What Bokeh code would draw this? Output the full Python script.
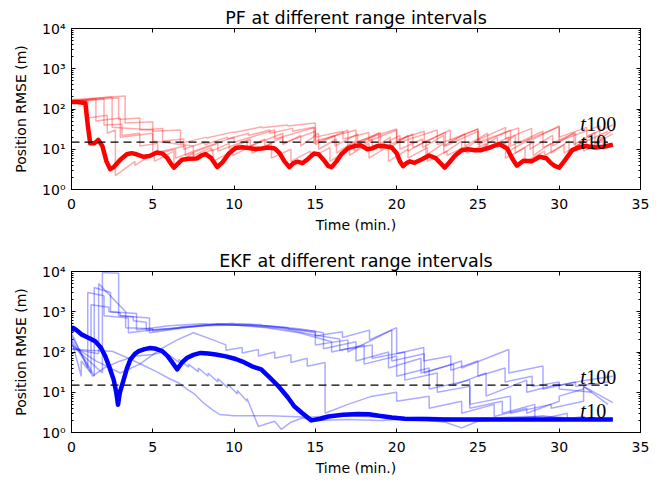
from bokeh.plotting import figure
from bokeh.layouts import column
from bokeh.models import Range1d, FixedTicker, LogAxis, LinearAxis, CustomJSTickFormatter
from bokeh.embed import file_html
from bokeh.resources import INLINE
from bokeh.core.properties import value

# ---------------- data ----------------
X_TICKS = [0, 5, 10, 15, 20, 25, 30, 35]
Y_TICKS = [1, 10, 100, 1000, 10000]
Y_MINOR = [m * 10 ** e for e in range(4) for m in range(2, 10)]

THRESH_T = [0, 33.0]
THRESH_V = [15, 15]

# PF, 10 s interval (thick)
PF10_T = [0, 0.3, 0.6, 0.85, 1.0, 1.15, 1.4, 1.65, 1.9, 2.15, 2.38, 2.6, 3.0, 3.4, 3.7, 4.0, 4.44, 4.8,
          5.25, 5.6, 5.9, 6.15, 6.3, 6.5, 6.8, 7.2, 7.7, 8.0, 8.25, 8.6, 8.96, 9.3, 9.7, 10.1, 10.5,
          10.9, 11.3, 11.7, 12.1, 12.5, 12.8, 13.1, 13.4, 13.65, 13.9, 14.2, 14.5, 14.9, 15.2, 15.5,
          15.8, 16.0, 16.3, 16.6, 17.0, 17.4, 17.8, 18.2, 18.5, 18.8, 19.2, 19.7, 20.0, 20.2, 20.4,
          20.6, 20.8, 21.1, 21.5, 22.0, 22.4, 22.7, 22.96, 23.2, 23.6, 24.0, 24.4, 24.8, 25.2, 25.7,
          26.3, 26.8, 27.1, 27.4, 27.6, 27.8, 28.3, 28.8, 29.2, 29.5, 29.75, 30.0, 30.3, 30.8, 31.2,
          31.6, 32.2, 32.7, 33.3]
PF10_V = [150, 150, 145, 140, 40, 14, 14, 17, 12, 5, 3.2, 3.6, 5.5, 7.5, 8, 7.5, 6.5, 6.8,
          8.3, 7.8, 6, 4.2, 3.5, 4.2, 5.5, 5.8, 5.9, 7, 7.6, 6, 3.6, 4.8, 8, 10.8, 11.2,
          10.8, 10.2, 10.5, 11, 10.5, 8, 5, 3.6, 4.5, 4.9, 4.5, 5.5, 7.8, 7.5, 5.5,
          3.8, 3.6, 5, 7.5, 10.5, 12, 12.5, 10, 10.5, 12, 12, 11, 8, 5, 3.8,
          4.5, 5, 4.6, 5.5, 7, 6, 4.5, 3.5, 4.5, 7, 9.5, 10, 9.5, 9.5, 11,
          13.5, 10.5, 6, 3.9, 4.5, 5.2, 5, 6.5, 6, 4.5, 3.8, 3.5, 5, 9.5, 11,
          12, 11, 11.5, 13]

# PF, longer intervals (thin)
PF100_T = [0, 3.3, 3.3, 5.0, 5.0, 6.7, 6.7, 8.3, 8.3, 10.0, 10.0, 11.7, 11.7, 13.3, 13.3, 15.0, 15.0,
           16.7, 16.7, 18.3, 18.3, 20.0, 20.0, 21.7, 21.7, 23.3, 23.3, 25.0, 25.0, 26.7, 26.7, 28.3,
           28.3, 30.0, 30.0, 31.7, 31.7, 33.3]
PF100_V = [170, 210, 45, 48, 28, 30, 14, 20, 19, 27, 26, 36, 34, 40, 38, 45, 20,
           28, 18, 26, 16, 30, 17, 28, 15, 30, 16, 32, 17, 35, 18, 33,
           17, 38, 20, 35, 21, 40]

PF80_T = [0, 2.9, 2.9, 4.2, 4.2, 5.6, 5.6, 6.9, 6.9, 8.2, 8.2, 9.6, 9.6, 10.9, 10.9, 12.2, 12.2, 13.6,
          13.6, 14.9, 14.9, 16.2, 16.2, 17.6, 17.6, 18.9, 18.9, 20.2, 20.2, 21.6, 21.6, 22.9, 22.9,
          24.2, 24.2, 25.6, 25.6, 26.9, 26.9, 28.2, 28.2, 29.6, 29.6, 30.9, 30.9, 32.2, 32.2, 33.3]
PF80_V = [150, 190, 55, 60, 30, 33, 16, 18, 10, 15, 13, 20, 18, 25, 22, 30, 25, 33,
          28, 35, 14, 22, 12, 24, 13, 25, 12, 22, 10, 18, 11, 22, 12,
          24, 12, 25, 11, 20, 9, 18, 10, 22, 12, 25, 13, 26, 14, 24]

PF60_T = [0, 2.0, 2.0, 3.1, 3.1, 4.2, 4.2, 5.3, 5.3, 6.4, 6.4, 7.5, 7.5, 8.6, 8.6, 9.7, 9.7, 10.8,
          10.8, 11.9, 11.9, 13.0, 13.0, 14.1, 14.1, 15.2, 15.2, 16.3, 16.3, 17.4, 17.4, 18.5, 18.5,
          19.6, 19.6, 20.7, 20.7, 21.8, 21.8, 22.9, 22.9, 24.0, 24.0, 25.1, 25.1, 26.2, 26.2, 27.3,
          27.3, 28.4, 28.4, 29.5, 29.5, 30.6, 30.6, 31.7, 31.7, 32.8, 32.8, 33.3]
PF60_V = [160, 180, 40, 42, 22, 25, 12, 14, 8, 10, 6, 9, 7, 11, 9, 14, 10, 16,
          11, 18, 12, 20, 13, 22, 12, 25, 10, 18, 8, 16, 9, 18, 10,
          20, 11, 22, 9, 16, 7, 14, 8, 16, 9, 18, 10, 20, 11, 22,
          8, 15, 7, 14, 8, 16, 9, 18, 10, 20, 11, 13]

PF20_T = [0, 1.0, 1.0, 2.2, 2.2, 2.7, 2.7, 3.9, 3.9, 5.1, 5.1, 6.3, 6.3, 7.5, 7.5, 8.7, 8.7, 9.9,
          9.9, 11.1, 11.1, 12.3, 12.3, 13.5, 13.5, 14.7, 14.7, 15.9, 15.9, 17.1, 17.1, 18.3, 18.3,
          19.5, 19.5, 20.7, 20.7, 21.9, 21.9, 23.1, 23.1, 24.3, 24.3, 25.5, 25.5, 26.7, 26.7, 27.9,
          27.9, 29.1, 29.1, 30.3, 30.3, 31.5, 31.5, 32.7, 32.7, 33.3]
PF20_V = [150, 160, 60, 70, 25, 30, 2.2, 5, 4, 8, 5, 9, 4, 8, 6, 10, 5, 9,
          7, 12, 8, 14, 6, 10, 5, 9, 6, 11, 5, 10, 7, 14, 6,
          12, 5, 10, 6, 11, 5, 9, 7, 12, 8, 14, 9, 15, 6, 11,
          5, 9, 7, 13, 8, 15, 9, 16, 10, 12]

PF40_T = [0, 1.5, 1.5, 3.0, 3.0, 5.0, 5.0, 7.0, 7.0, 9.0, 9.0, 11.0, 11.0, 13.0, 13.0, 15.0, 15.0,
          17.0, 17.0, 19.0, 19.0, 21.0, 21.0, 23.0, 23.0, 25.0, 25.0, 27.0, 27.0, 29.0, 29.0, 31.0,
          31.0, 33.0]
PF40_V = [150, 180, 50, 60, 20, 25, 8, 12, 7, 14, 9, 18, 12, 25, 14, 28, 13,
          30, 12, 26, 10, 24, 11, 26, 12, 28, 13, 30, 12, 28, 11, 26,
          12, 28]

PF50_T = [0, 2.5, 2.5, 5.0, 5.0, 7.5, 7.5, 10.0, 10.0, 12.5, 12.5, 15.0, 15.0, 17.5, 17.5, 20.0,
          20.0, 22.5, 22.5, 25.0, 25.0, 27.5, 27.5, 30.0, 30.0, 32.5, 32.5, 33.3]
PF50_V = [160, 200, 35, 30, 16, 12, 9, 20, 15, 30, 18, 35, 16, 30, 15, 32,
          14, 30, 13, 32, 15, 34, 14, 36, 16, 38, 18, 30]

# EKF, 10 s interval (thick)
EKF10_T = [0, 0.1, 0.3, 0.64, 1.0, 1.46, 1.8, 2.08, 2.35, 2.6, 2.75, 2.86, 2.98, 3.2, 3.4, 3.62,
           3.9, 4.14, 4.5, 4.85, 5.2, 5.58, 5.9, 6.2, 6.5, 6.8, 7.12, 7.5, 7.94, 8.4, 8.87, 9.5,
           10.1, 10.6, 11.1, 11.67, 12.2, 12.6, 12.9, 13.3, 13.7, 14.2, 14.75, 15.3, 15.8, 16.7,
           17.6, 18.3, 18.9, 19.7, 20.5, 21.5, 23.0, 25.0, 27.0, 29.0, 31.0, 33.3]
EKF10_V = [330, 400, 350, 270, 230, 185, 130, 78, 40, 20, 10, 4.9, 10, 20, 38, 65,
           90, 105, 118, 126, 120, 105, 80, 55, 37, 55, 72, 85, 95, 92, 87, 78,
           67, 56, 44, 37, 23, 16, 11.7, 7.5, 4.5, 3.0, 2.0, 2.2, 2.5, 2.75,
           2.9, 2.85, 2.6, 2.35, 2.2, 2.15, 2.1, 2.1, 2.1, 2.1, 2.1, 2.1]

# EKF, longer intervals (thin)
EKF100_T = [0, 1.67, 1.67, 3.33, 3.33, 5.0, 5.0, 6.67, 6.67, 8.33, 8.33, 10.0, 10.0, 11.67, 11.67,
            13.33, 13.33, 15.0, 15.0, 16.67, 16.67, 18.33, 18.33, 20.0, 20.0, 21.67, 21.67, 23.33,
            23.33, 25.0, 25.0, 26.67, 26.67, 28.33, 28.33, 30.0, 30.0, 31.67, 31.67, 33.3]
EKF100_V = [120, 90, 5000, 1000, 400, 380, 330, 400, 420, 480, 470, 520, 500, 480, 460,
            400, 380, 330, 250, 320, 230, 350, 200, 400, 90, 130, 60, 80,
            35, 60, 25, 40, 18, 25, 14, 18, 15, 20, 20, 25]

EKF80_T = [0, 1.9, 1.9, 2.9, 2.9, 4.8, 4.8, 7.0, 9.0, 11.0, 13.0, 15.0, 15.0, 17.0, 17.0, 19.7,
           19.7, 21.7, 21.7, 24.0, 24.0, 26.9, 26.9, 29.0, 29.0, 31.0, 31.0, 33.0]
EKF80_V = [150, 30, 9500, 9000, 800, 700, 300, 400, 500, 480, 400, 300, 150, 200, 100, 350,
           60, 90, 30, 60, 40, 115, 30, 45, 12, 18, 14, 18]

EKF60_T = [0, 1.4, 1.4, 2.4, 2.4, 4.0, 4.0, 6.0, 8.0, 10.0, 12.0, 14.0, 16.0, 16.0, 18.0, 18.0,
           20.0, 20.0, 22.0, 22.0, 24.5, 24.5, 27.0, 27.0, 29.5, 29.5, 31.5, 31.5, 33.0]
EKF60_V = [250, 25, 4000, 3000, 1000, 900, 350, 450, 500, 470, 400, 300, 180, 100, 150, 50,
           80, 25, 40, 12, 20, 5, 8, 3, 5, 4, 6, 14, 5]

EKF50_T = [0, 1.0, 1.0, 2.0, 2.0, 3.5, 3.5, 5.0, 7.0, 9.0, 11.0, 13.0, 15.0, 16.5, 16.5, 18.5,
           18.5, 20.5, 20.5, 22.5, 22.5, 24.5, 24.5, 26.5, 26.5, 28.5, 28.5, 30.5, 30.5, 31.5]
EKF50_V = [300, 40, 3000, 2500, 800, 700, 300, 350, 420, 480, 450, 380, 260, 210, 110, 150,
           70, 100, 20, 30, 10, 14, 4, 6, 3, 5, 2, 3, 2.2, 2.5]

EKF45_T = [0, 0.6, 0.6, 1.2, 1.2, 2.3, 2.3, 3.0, 3.0, 3.8, 3.8, 4.6, 4.6, 6.0, 8.0, 10.0, 12.0,
           14.0, 15.5, 15.5, 17.5, 17.5, 19.5, 19.5, 21.5, 21.5, 23.5, 23.5, 25.5, 25.5, 28.0,
           28.0, 30.0, 30.0, 32.0]
EKF45_V = [200, 25, 60, 30, 1500, 1300, 1000, 950, 800, 750, 600, 550, 350, 380, 440, 470, 450,
           380, 300, 120, 180, 60, 100, 40, 70, 30, 50, 15, 30, 8, 20, 10, 16, 12, 10]

EKF40_T = [0, 0.8, 1.3, 2.0, 3.0, 4.0, 5.0, 5.6, 6.0, 6.0, 6.6, 6.6, 7.2, 7.2, 7.8, 7.8, 8.4,
           8.4, 9.0, 9.0, 9.6, 9.6, 10.2, 10.2, 10.8, 10.8, 11.5, 11.9, 12.5, 12.9, 13.5, 14.2,
           15.0, 17.0, 19.0, 21.0, 23.0, 24.0, 25.0, 27.0, 29.0, 31.0]
EKF40_V = [200, 60, 25, 40, 60, 80, 87, 100, 70, 85, 55, 65, 42, 50, 32, 40, 25,
           30, 18, 22, 13, 16, 9, 11, 6, 7, 1.4, 1.6, 1.9, 1.2, 1.8, 2.3,
           2.0, 2.1, 2.0, 2.2, 1.8, 1.3, 1.9, 2.2, 2.6, 2.0]

EKF30_T = [0, 1.0, 2.5, 3.5, 4.5, 5.2, 6.0, 6.6, 7.1, 7.6, 8.1, 8.66, 9.1, 10.0, 11.0, 12.2, 13.5,
           14.6, 16.0, 18.0, 20.0, 22.0, 24.0, 26.0, 28.0, 30.0, 31.0]
EKF30_V = [120, 110, 104, 70, 45, 33, 22, 17, 12, 8.8, 5.5, 3.7, 2.8, 2.6, 2.6, 2.6, 2.5,
           2.4, 2.6, 2.5, 2.3, 2.4, 2.2, 2.3, 2.5, 2.4, 2.2]

EKF20_T = [0, 1.5, 3.0, 4.2, 5.5, 6.5, 7.5, 8.7, 9.5, 9.5, 10.5, 10.5, 11.5, 11.5, 12.5, 12.5,
           13.5, 13.5, 14.5, 14.5, 15.6, 15.6, 17.0, 18.5, 20.0, 20.0, 22.0, 22.0, 24.0, 24.0,
           26.0, 26.0, 28.0, 28.0, 30.0, 30.0, 31.5, 31.5, 33.3]
EKF20_V = [150, 60, 30, 50, 120, 200, 300, 200, 150, 110, 130, 95, 115, 80, 100, 70,
           85, 55, 70, 44, 55, 3, 5, 8, 10, 6, 8, 4, 6, 3,
           5, 2.5, 4, 3, 6, 8, 12, 14, 5.5]

# annotation anchors (t, value)
PF_LABEL_T = [31.3, 31.3]
PF_LABEL_V = [43, 15]
EKF_LABEL_T = [31.3, 31.3]
EKF_LABEL_V = [24.5, 3.4]
LABEL_NUM = ["100", "10"]

PF_THIN = [(PF100_T, PF100_V), (PF80_T, PF80_V), (PF60_T, PF60_V), (PF50_T, PF50_V),
           (PF40_T, PF40_V), (PF20_T, PF20_V)]
EKF_THIN = [(EKF100_T, EKF100_V), (EKF80_T, EKF80_V), (EKF60_T, EKF60_V), (EKF50_T, EKF50_V),
            (EKF45_T, EKF45_V), (EKF40_T, EKF40_V), (EKF30_T, EKF30_V), (EKF20_T, EKF20_V)]

# ---------------- plotting ----------------
FONT = "DejaVu Sans"
SUP_JS = """
const sup = {"0":"\u2070","1":"\u00b9","2":"\u00b2","3":"\u00b3","4":"\u2074","5":"\u2075",
             "6":"\u2076","7":"\u2077","8":"\u2078","9":"\u2079","-":"\u207b"};
const e = Math.round(Math.log10(tick));
return "10" + String(e).split("").map(c => sup[c]).join("");
"""


def style_axis(ax, show_labels=True):
    ax.major_tick_in = 4
    ax.major_tick_out = 0
    ax.minor_tick_in = 2
    ax.minor_tick_out = 0
    ax.major_tick_line_color = "black"
    ax.minor_tick_line_color = "black"
    ax.axis_line_color = "black"
    ax.major_label_text_font = FONT
    ax.major_label_text_font_size = "14px"
    ax.major_label_text_color = "black"
    ax.axis_label_text_font = FONT
    ax.axis_label_text_font_size = "14px"
    ax.axis_label_text_font_style = "normal"
    ax.axis_label_text_color = "black"
    if not show_labels:
        ax.formatter = CustomJSTickFormatter(code="return '';")
        ax.major_label_standoff = 0


def make_fig(title, thin, thick_t, thick_v, color, lab_t, lab_v, b_top, b_bottom):
    p = figure(frame_width=569, frame_height=161, x_range=Range1d(0, 35), y_range=Range1d(1, 1e4),
               y_axis_type="log", output_backend="svg", toolbar_location=None,
               min_border_left=71, min_border_right=12, min_border_top=b_top,
               min_border_bottom=b_bottom, title=title)
    p.title.align = "center"
    p.title.text_font = FONT
    p.title.text_font_size = "17.5px"
    p.title.text_font_style = "normal"
    p.title.text_color = "black"
    p.title.standoff = 2
    p.grid.visible = False
    p.outline_line_color = "black"
    p.outline_line_width = 1
    p.background_fill_color = "white"
    p.border_fill_color = "white"

    xt = FixedTicker(ticks=X_TICKS, minor_ticks=[])
    yt = FixedTicker(ticks=Y_TICKS, minor_ticks=Y_MINOR)
    p.xaxis.ticker = xt
    p.yaxis.ticker = yt
    p.yaxis.formatter = CustomJSTickFormatter(code=SUP_JS)
    p.xaxis.axis_label = "Time (min.)"
    p.yaxis.axis_label = "Position RMSE (m)"
    for ax in p.xaxis:
        style_axis(ax)
        ax.major_label_standoff = 9
        ax.axis_label_standoff = 5
    for ax in p.yaxis:
        style_axis(ax)
        ax.major_label_standoff = 6
        ax.axis_label_standoff = 10

    right = LogAxis(ticker=yt)
    style_axis(right, show_labels=False)
    p.add_layout(right, "right")
    top = LinearAxis(ticker=xt)
    style_axis(top, show_labels=False)
    p.add_layout(top, "above")

    for t, v in thin:
        p.line(t, v, line_color=color, line_alpha=0.33, line_width=1.5)
    p.line(thick_t, thick_v, line_color=color, line_width=4.5, line_join="round")
    p.line(THRESH_T, THRESH_V, line_color="black", line_width=1.2, line_dash="8 5")

    p.text(x=lab_t, y=lab_v, text=["t", "t"], text_font=value("Liberation Serif"),
           text_font_style="italic", text_font_size="20px", text_baseline="alphabetic",
           text_align="left", text_color="black")
    p.text(x=lab_t, y=lab_v, text=LABEL_NUM, text_font=value("Liberation Serif"),
           text_font_size="20px", text_baseline="alphabetic", text_align="left",
           text_color="black", x_offset=6)
    return p


p1 = make_fig("PF at different range intervals", PF_THIN, PF10_T, PF10_V, "red",
              PF_LABEL_T, PF_LABEL_V, 28, 58)
p2 = make_fig("EKF at different range intervals", EKF_THIN, EKF10_T, EKF10_V, "blue",
              EKF_LABEL_T, EKF_LABEL_V, 23, 46)

layout = column(p1, p2, spacing=0)
open("out.html", "w").write(file_html(layout, INLINE))
